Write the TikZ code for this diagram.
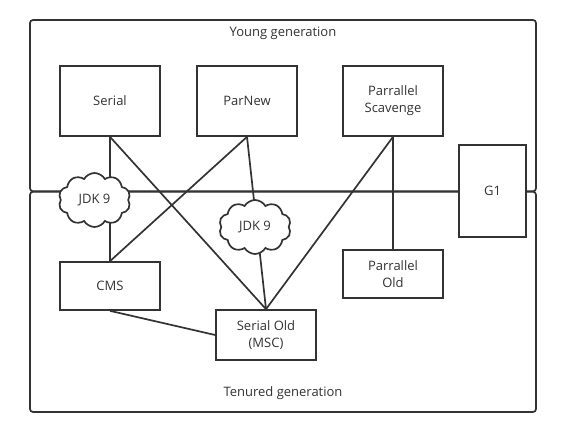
\documentclass[tikz,border=0pt]{standalone}
\usepackage{fontspec}
\setmainfont{Open Sans}
\usetikzlibrary{shapes.symbols}
\definecolor{ink}{HTML}{333333}

\begin{document}
\begin{tikzpicture}[x=1pt, y=-1pt, line width=1.7pt, draw=ink, text=ink,
    font=\fontsize{13}{17}\selectfont,
    gcbox/.style={draw, fill=white, align=center, inner sep=0pt},
    jdkcloud/.style={cloud, cloud puffs=10, cloud puff arc=120, aspect=1.35, draw, fill=white,
        minimum width=72pt, minimum height=54pt, inner sep=0pt}]
    \useasboundingbox (0,0) rectangle (571,435);
    % Generations
    \draw[rounded corners=3pt] (30,20) rectangle (536,191.3);
    \draw[rounded corners=3pt] (30,191.7) rectangle (536,412);
    \node (young) at (283,33) {Young generation};
    \node (tenured) at (283,393) {Tenured generation};
    % Collectors
    \node[gcbox, minimum width=100pt, minimum height=70pt] (serial) at (110,101) {Serial};
    \node[gcbox, minimum width=100pt, minimum height=70pt] (parnew) at (247,101) {ParNew};
    \node[gcbox, minimum width=100pt, minimum height=70pt] (scavenge) at (393,101) {Parrallel\\Scavenge};
    \node[gcbox, minimum width=100pt, minimum height=48pt] (cms) at (110,286) {CMS};
    \node[gcbox, minimum width=100pt, minimum height=50pt] (serialold) at (266,335) {Serial Old\\(MSC)};
    \node[gcbox, minimum width=100pt, minimum height=48pt] (parold) at (393,274) {Parrallel\\Old};
    \node[gcbox, minimum width=67pt, minimum height=92pt] (g1) at (492.5,191) {G1};
    % Combinations
    \draw (serial.south) -- (cms.north);
    \draw (serial.south) -- (serialold.north);
    \draw (parnew.south) -- (cms.north);
    \draw (parnew.south) -- (serialold.north);
    \draw (scavenge.south) -- (serialold.north);
    \draw (scavenge.south) -- (parold.north);
    \draw (cms.south) -- (serialold.west);
    % Removed in JDK 9
    \node[jdkcloud] (jdka) at (94.5,200) {JDK 9};
    \node[jdkcloud] (jdkb) at (255,227) {JDK 9};
\end{tikzpicture}
\end{document}
